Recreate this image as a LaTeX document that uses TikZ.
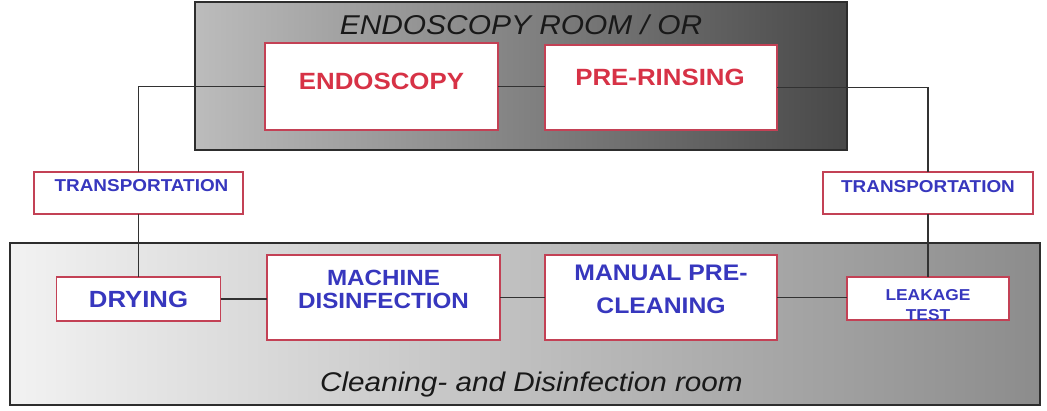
\documentclass[tikz,border=0pt]{standalone}
\usepackage{fontspec}
\setmainfont{Liberation Sans}[FakeStretch=1.1]
\usepackage{tikz}
\usetikzlibrary{calc,positioning}

\begin{document}
\begin{tikzpicture}[x=1pt,y=1pt,
  room/.style={draw=roomColor,line width=1.5pt},
  stepbox/.style={draw=boxColor,fill=white,line width=1.4pt,inner sep=0pt,outer sep=0pt},
  redtext/.style={text=redColor,inner sep=0pt,outer sep=0pt,align=center},
  bluetext/.style={text=blueColor,inner sep=0pt,outer sep=0pt,align=center},
  roomtext/.style={text=titleColor,inner sep=0pt,outer sep=0pt},
  link/.style={draw=linkColor,line width=1.7pt}]
\definecolor{fillColor}{RGB}{255,255,255}
\definecolor{roomColor}{RGB}{45,45,45}
\definecolor{topLeft}{RGB}{188,188,188}
\definecolor{topRight}{RGB}{72,72,72}
\definecolor{botLeft}{RGB}{242,242,242}
\definecolor{botRight}{RGB}{140,140,140}
\definecolor{boxColor}{RGB}{195,65,85}
\definecolor{redColor}{RGB}{215,50,70}
\definecolor{blueColor}{RGB}{55,55,190}
\definecolor{titleColor}{RGB}{25,25,25}
\definecolor{linkColor}{RGB}{50,50,50}
\path[use as bounding box,fill=fillColor] (0,0) rectangle (1047,411);

% rooms
\path[room,left color=topLeft,right color=topRight] (195,409) rectangle (847,261);
\path[room,left color=botLeft,right color=botRight] (10,168) rectangle (1040,6);
\node[roomtext,font=\itshape\fontsize{27.2}{30}\selectfont] (topRoom) at (521,386) {ENDOSCOPY ROOM / OR};
\node[roomtext,anchor=base,font=\itshape\fontsize{27}{30}\selectfont] (botRoom) at (531.5,19) {Cleaning- and Disinfection room};

% boxes
\node[stepbox,minimum width=233,minimum height=87] (endo) at (381.5,324.5) {};
\node[stepbox,minimum width=232,minimum height=85] (prerinse) at (661,323.5) {};
\node[stepbox,minimum width=209,minimum height=42] (transL) at (138.5,218) {};
\node[stepbox,minimum width=210,minimum height=42] (transR) at (928,218) {};
\node[stepbox,minimum width=164,minimum height=44] (dry) at (138.5,112) {};
\node[stepbox,minimum width=233,minimum height=85] (mach) at (383.5,113.5) {};
\node[stepbox,minimum width=232,minimum height=85] (manual) at (661,113.5) {};
\node[stepbox,minimum width=162,minimum height=43] (leak) at (928,112.5) {};

% texts
\node[redtext,font=\bfseries\fontsize{23.5}{24}\selectfont] (endoText) at ([yshift=5]endo.center) {ENDOSCOPY};
\node[redtext,font=\bfseries\fontsize{23.5}{24}\selectfont] (prerinseText) at ([xshift=-1,yshift=10.5]prerinse.center) {PRE-RINSING};
\node[bluetext,font=\bfseries\fontsize{17.2}{18}\selectfont] (transLText) at ([xshift=3,yshift=7]transL.center) {TRANSPORTATION};
\node[bluetext,font=\bfseries\fontsize{17.2}{18}\selectfont] (transRText) at ([yshift=6.5]transR.center) {TRANSPORTATION};
\node[bluetext,font=\bfseries\fontsize{23.4}{24}\selectfont] (dryText) at (dry.center) {DRYING};
\node[bluetext,font=\bfseries\fontsize{22}{23.5}\selectfont] (machText) at ([yshift=8]mach.center) {MACHINE\\DISINFECTION};
\node[bluetext,font=\bfseries\fontsize{22.5}{33}\selectfont] (manualText) at ([yshift=8]manual.center) {MANUAL PRE-\\CLEANING};
\node[bluetext,font=\bfseries\fontsize{15.8}{20}\selectfont] (leakText) at ([yshift=-6.5]leak.center) {LEAKAGE\\TEST};

% connectors
\path[link] (endo.west) -| (transL.north);
\path[link] (transL.south) -- (dry.north);
\path[link] (endo.east) -- (endo.east -| prerinse.west);
\path[link] (prerinse.east) -| (transR.north);
\path[link] (transR.south) -- (leak.north);
\path[link] (dry.east) -- (dry.east -| mach.west);
\path[link] (mach.east) -- (manual.west);
\path[link] (manual.east) -- (manual.east -| leak.west);
\end{tikzpicture}
\end{document}
